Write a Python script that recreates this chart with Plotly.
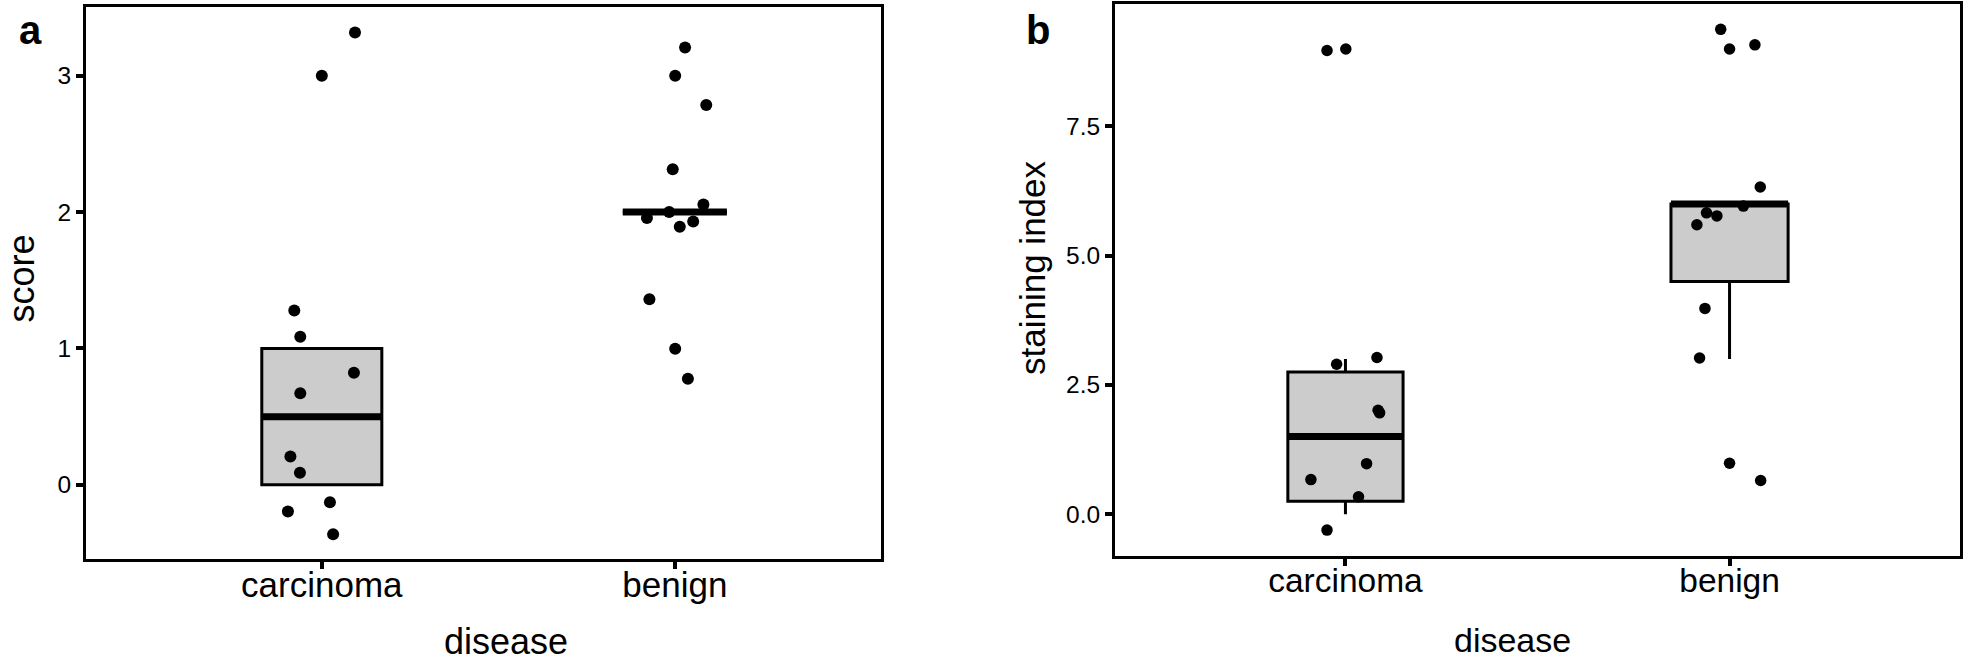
import plotly.graph_objects as go

W, H = 1965, 666

# ---------------- data ----------------
categories = ["carcinoma", "benign"]
cat_pos = [1, 2]

# Panel a: score (jittered points as drawn)
a_carc_x = [1.094, 1.000, 0.922, 0.939, 1.091, 0.939, 0.911, 0.938, 1.023, 0.904, 1.032]
a_carc_y = [3.317, 3.000, 1.278, 1.086, 0.822, 0.671, 0.208, 0.088, -0.127, -0.195, -0.363]
a_ben_x = [2.029, 2.001, 2.089, 1.994, 2.081, 1.984, 1.921, 2.052, 2.014, 1.928, 2.001, 2.037]
a_ben_y = [3.207, 3.000, 2.785, 2.315, 2.056, 2.000, 1.956, 1.931, 1.893, 1.361, 0.998, 0.778]

# Panel a box statistics [carcinoma, benign]
a_q1 = [0.0, 2.0]
a_median = [0.5, 2.0]
a_q3 = [1.0, 2.0]
a_lower = [0.0, 2.0]
a_upper = [1.0, 2.0]

# Panel b: staining index (jittered points as drawn)
b_carc_x = [0.952, 1.001, 1.082, 0.977, 1.085, 1.089, 1.055, 0.910, 1.034, 0.952]
b_carc_y = [8.97, 9.00, 3.03, 2.90, 2.01, 1.96, 0.977, 0.668, 0.334, -0.309]
b_ben_x = [1.977, 2.066, 2.000, 2.080, 2.036, 1.940, 1.967, 1.915, 1.936, 1.922, 2.000, 2.081]
b_ben_y = [9.38, 9.08, 9.00, 6.33, 5.96, 5.83, 5.77, 5.60, 3.98, 3.02, 0.985, 0.65]

# Panel b box statistics [carcinoma, benign]
b_q1 = [0.25, 4.5]
b_median = [1.5, 6.0]
b_q3 = [2.75, 6.0]
b_lower = [0.0, 3.0]
b_upper = [3.0, 6.0]

a_yticks = [0, 1, 2, 3]
a_yticktext = ["0", "1", "2", "3"]
b_yticks = [0, 2.5, 5.0, 7.5]
b_yticktext = ["0.0", "2.5", "5.0", "7.5"]

# ---------------- styling ----------------
FONT = "Liberation Sans, Arial, Helvetica, sans-serif"
FILL = "#CCCCCC"


def px_x(p):
    return p / W


def px_y(p):
    return 1 - p / H


fig = go.Figure()


def add_panel(xa, ya, q1, med, q3, lo, up, widths, px_list, py_list, msize):
    for i in range(2):
        fig.add_trace(go.Box(
            x=[cat_pos[i]], q1=[q1[i]], median=[med[i]], q3=[q3[i]],
            lowerfence=[lo[i]], upperfence=[up[i]],
            width=widths[i], whiskerwidth=0, boxpoints=False,
            fillcolor=FILL, line=dict(color="black", width=3),
            xaxis=xa, yaxis=ya, showlegend=False, hoverinfo="skip"))
        # thicker median bar
        fig.add_trace(go.Scatter(
            x=[cat_pos[i] - widths[i] / 2, cat_pos[i] + widths[i] / 2],
            y=[med[i], med[i]], mode="lines",
            line=dict(color="black", width=7),
            xaxis=xa, yaxis=ya, showlegend=False, hoverinfo="skip"))
    for xs, ys in zip(px_list, py_list):
        fig.add_trace(go.Scatter(
            x=xs, y=ys, mode="markers",
            marker=dict(color="black", size=msize, line=dict(width=0)),
            xaxis=xa, yaxis=ya, showlegend=False, hoverinfo="skip"))


add_panel("x", "y", a_q1, a_median, a_q3, a_lower, a_upper, [0.34, 0.295],
          [a_carc_x, a_ben_x], [a_carc_y, a_ben_y], 12)
add_panel("x2", "y2", b_q1, b_median, b_q3, b_lower, b_upper, [0.30, 0.305],
          [b_carc_x, b_ben_x], [b_carc_y, b_ben_y], 11.5)

axis_common = dict(showline=True, linecolor="black", linewidth=3, mirror=True,
                   showgrid=False, zeroline=False, ticks="outside", ticklen=7,
                   tickwidth=3.5, tickcolor="black", fixedrange=True,
                   automargin=False)

fig.update_layout(
    width=W, height=H,
    margin=dict(l=0, r=0, t=0, b=0, autoexpand=False),
    paper_bgcolor="white", plot_bgcolor="white",
    font=dict(family=FONT, color="black"),
    boxmode="overlay",
    xaxis=dict(domain=[px_x(86), px_x(881)], range=[0.332, 2.584],
               tickvals=cat_pos, ticktext=categories, ticklabelstandoff=-14,
               tickfont=dict(size=35), anchor="y", **axis_common),
    yaxis=dict(domain=[px_y(559), px_y(7)], range=[-0.544, 3.504],
               tickvals=a_yticks, ticktext=a_yticktext,
               tickfont=dict(size=24.5), anchor="x", **axis_common),
    xaxis2=dict(domain=[px_x(1115), px_x(1960)], range=[0.4, 2.6],
                tickvals=cat_pos, ticktext=categories, ticklabelstandoff=-14,
                tickfont=dict(size=33.5), anchor="y2", **axis_common),
    yaxis2=dict(domain=[px_y(556), px_y(4)], range=[-0.81, 9.87],
                tickvals=b_yticks, ticktext=b_yticktext,
                tickfont=dict(size=24.5), anchor="x2", **axis_common),
)

annots = [
    dict(text="<b>a</b>", x=px_x(17), y=px_y(30), xanchor="left", yanchor="middle",
         font=dict(size=40)),
    dict(text="<b>b</b>", x=px_x(1024), y=px_y(30), xanchor="left", yanchor="middle",
         font=dict(size=40)),
    dict(text="score", x=px_x(21.5), y=px_y(279), textangle=-90,
         xanchor="center", yanchor="middle", font=dict(size=36)),
    dict(text="staining index", x=px_x(1032), y=px_y(268), textangle=-90,
         xanchor="center", yanchor="middle", font=dict(size=35)),
    dict(text="disease", x=px_x(506), y=px_y(641), xanchor="center", yanchor="middle",
         font=dict(size=36)),
    dict(text="disease", x=px_x(1512), y=px_y(640), xanchor="center", yanchor="middle",
         font=dict(size=34)),
]
for an in annots:
    an.update(xref="paper", yref="paper", showarrow=False)
fig.update_layout(annotations=annots)

fig.write_html("out.html", config={"displayModeBar": False},
               post_script="document.body.style.margin='0px';document.body.style.overflow='hidden';")
